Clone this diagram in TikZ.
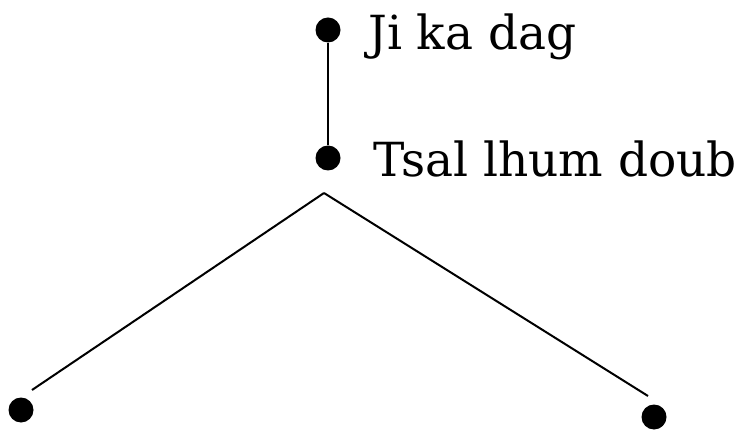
\documentclass[tikz,border=0pt]{standalone}
\usepackage{fontspec}
\setmainfont{DejaVu Serif}
\begin{document}
\begin{tikzpicture}[x=1pt,y=1pt,
  dot/.style={circle,fill=black,inner sep=0pt,minimum width=25pt,minimum height=24pt},
  lbl/.style={anchor=base west,inner sep=0pt,font=\fontsize{47}{56}\selectfont},
  edge/.style={line width=2pt}]
\useasboundingbox (0,0) rectangle (741,-430);
\node[dot] (d1) at (328,-30) {};
\node[dot] (d2) at (328,-158) {};
\node[dot] (d3) at (21,-410) {};
\node[dot] (d4) at (654,-417) {};
\node[lbl] (t1) at (368,-50) {Ji ka dag};
\node[lbl] (t2) at (373,-177) {Tsal lhum doub};
\coordinate (apex) at (324,-193);
\coordinate (le) at (32,-390);
\coordinate (re) at (648,-396);
\draw[edge] (d1) -- (d2);
\draw[edge] (apex) -- (le);
\draw[edge] (apex) -- (re);
\end{tikzpicture}
\end{document}
